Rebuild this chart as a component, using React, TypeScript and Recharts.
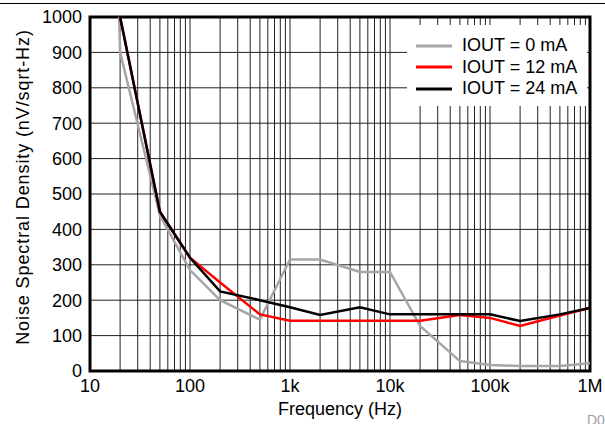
import { LineChart, Line, XAxis, YAxis, CartesianGrid, ReferenceArea } from 'recharts';

document.body.style.margin = '0';

const FONT = '"Liberation Sans", Arial, sans-serif';

// noise density vs frequency, one list per load current
const iout0 = [
  { f: 10, v: 3900 },
  { f: 20, v: 900 },
  { f: 50, v: 440 },
  { f: 100, v: 285 },
  { f: 200, v: 200 },
  { f: 500, v: 145 },
  { f: 1000, v: 315 },
  { f: 2000, v: 315 },
  { f: 5000, v: 280 },
  { f: 10000, v: 280 },
  { f: 20000, v: 127 },
  { f: 50000, v: 28 },
  { f: 100000, v: 17 },
  { f: 200000, v: 14 },
  { f: 500000, v: 14 },
  { f: 1000000, v: 22 },
];

const iout12 = [
  { f: 20, v: 1000 },
  { f: 50, v: 450 },
  { f: 100, v: 320 },
  { f: 200, v: 250 },
  { f: 500, v: 160 },
  { f: 1000, v: 142 },
  { f: 2000, v: 142 },
  { f: 5000, v: 142 },
  { f: 10000, v: 142 },
  { f: 20000, v: 142 },
  { f: 50000, v: 158 },
  { f: 100000, v: 150 },
  { f: 200000, v: 127 },
  { f: 500000, v: 157 },
  { f: 1000000, v: 178 },
];

const iout24 = [
  { f: 20, v: 1000 },
  { f: 50, v: 450 },
  { f: 100, v: 320 },
  { f: 200, v: 225 },
  { f: 500, v: 200 },
  { f: 1000, v: 180 },
  { f: 2000, v: 158 },
  { f: 5000, v: 180 },
  { f: 10000, v: 160 },
  { f: 20000, v: 160 },
  { f: 50000, v: 160 },
  { f: 100000, v: 160 },
  { f: 200000, v: 141 },
  { f: 500000, v: 160 },
  { f: 1000000, v: 178 },
];

const series = [
  { name: 'IOUT = 0 mA', color: '#a6a6a6', data: iout0 },
  { name: 'IOUT = 12 mA', color: '#ff0000', data: iout12 },
  { name: 'IOUT = 24 mA', color: '#000000', data: iout24 },
];

// log grid: 1..9 of every decade, labels only on decades
const decades = [10, 100, 1000, 10000, 100000];
const xTicks = [...decades.flatMap((d) => [1, 2, 3, 4, 5, 6, 7, 8, 9].map((m) => m * d)), 1000000];
const xLabels: Record<number, string> = {
  10: '10',
  100: '100',
  1000: '1k',
  10000: '10k',
  100000: '100k',
  1000000: '1M',
};
const yTicks = [0, 100, 200, 300, 400, 500, 600, 700, 800, 900, 1000];

function LegendBox() {
  return (
    <div
      style={{
        position: 'absolute',
        left: 407,
        top: 25,
        width: 171,
        background: '#fff',
        padding: '10px 0 6px 9px',
        fontFamily: FONT,
        fontSize: 18,
        color: '#000',
      }}
    >
      {series.map((s) => (
        <div key={s.name} style={{ display: 'flex', alignItems: 'center', height: 21.6 }}>
          <svg width={36} height={6} style={{ marginRight: 10 }}>
            <line x1={0} y1={3} x2={36} y2={3} stroke={s.color} strokeWidth={3} />
          </svg>
          <span style={{ lineHeight: '21.6px' }}>{s.name}</span>
        </div>
      ))}
    </div>
  );
}

export default function App() {
  return (
    <div style={{ position: 'relative', width: 605, height: 424, background: '#fff', overflow: 'hidden' }}>
      <div style={{ position: 'absolute', left: 0, top: 3, width: 605, height: 1, background: '#000' }} />
      <LineChart width={605} height={424} margin={{ top: 17, right: 15, bottom: 0, left: 0 }}>
        <CartesianGrid stroke="#222" strokeWidth={1} />
        <XAxis
          dataKey="f"
          type="number"
          scale="log"
          domain={[10, 1000000]}
          ticks={xTicks}
          interval={0}
          tickFormatter={(v: number) => xLabels[v] ?? ''}
          tick={{ fill: '#000', fontSize: 18, fontFamily: FONT }}
          tickLine={false}
          axisLine={false}
          height={53}
          allowDataOverflow
          label={{
            value: 'Frequency (Hz)',
            position: 'insideBottom',
            offset: 9,
            fill: '#000',
            fontSize: 18,
            fontFamily: FONT,
          }}
        />
        <YAxis
          type="number"
          domain={[0, 1000]}
          ticks={yTicks}
          interval={0}
          tick={{ fill: '#000', fontSize: 18, fontFamily: FONT }}
          tickLine={false}
          axisLine={false}
          width={90}
          allowDataOverflow
          label={() => (
            <text
              x={29}
              y={187}
              transform="rotate(-90 29 187)"
              textAnchor="middle"
              fill="#000"
              fontSize={18}
              letterSpacing={0.9}
              fontFamily={FONT}
            >
              Noise Spectral Density (nV/sqrt-Hz)
            </text>
          )}
        />
        {series.map((s) => (
          <Line
            key={s.name}
            data={s.data}
            dataKey="v"
            name={s.name}
            stroke={s.color}
            strokeWidth={2.5}
            dot={false}
            activeDot={false}
            isAnimationActive={false}
          />
        ))}
        <ReferenceArea
          x1={10}
          x2={1000000}
          y1={0}
          y2={1000}
          fill="none"
          stroke="#000"
          strokeWidth={3}
          ifOverflow="visible"
        />
      </LineChart>
      <LegendBox />
      <div
        style={{
          position: 'absolute',
          left: 587,
          top: 412,
          fontFamily: FONT,
          fontSize: 14,
          color: '#a0a0a0',
          whiteSpace: 'nowrap',
        }}
      >
        D001
      </div>
    </div>
  );
}
